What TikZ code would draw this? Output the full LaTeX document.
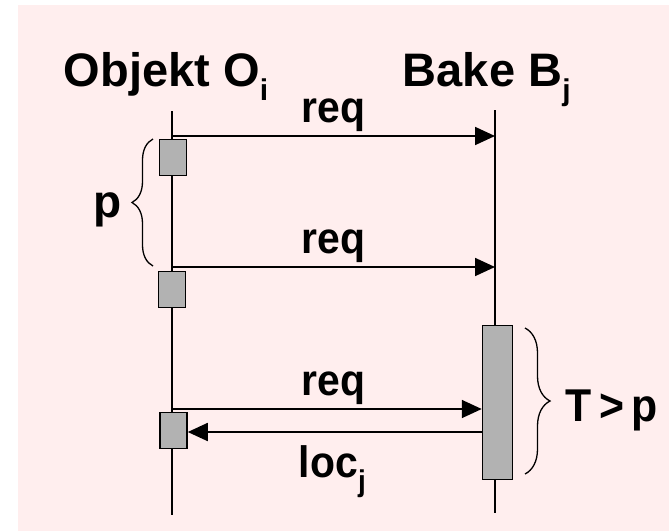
\documentclass[tikz,border=0pt]{standalone}
\usepackage{fontspec}
\setmainfont{Liberation Sans}
\usetikzlibrary{arrows.meta,decorations.pathreplacing}
\definecolor{bgpink}{RGB}{255,238,238}
\definecolor{actgray}{RGB}{178,178,178}
\newcommand{\lowidx}[1]{\raisebox{-14pt}{\fontsize{30}{30}\selectfont #1}}
\newcommand{\narrow}[1]{\scalebox{0.93}[1]{#1}}
\tikzset{
  head/.style={font=\fontsize{47}{47}\selectfont\bfseries, inner sep=0pt, anchor=base west},
  lbl/.style={font=\fontsize{44}{44}\selectfont\bfseries, inner sep=0pt, anchor=base west},
  act/.style={draw=black, fill=actgray, line width=1.5pt, inner sep=0pt, minimum width=27pt, minimum height=36pt},
  msg/.style={->, line width=1.8pt},
  bracket/.style={decorate, decoration={brace, amplitude=#1}, line width=1.3pt}
}
\begin{document}
\begin{tikzpicture}[x=1pt, y=-1pt, >={Triangle[length=20pt,width=18pt]}, line width=1.8pt]
	% 0. 背景
	\useasboundingbox (0,0) rectangle (669,531);
	\fill[bgpink] (18,5) rectangle (669,531);
	
	% 1. 标题
	\node[head] (objO) at (63,86) {Objekt O\lowidx{i}};
	\node[head] (bakeB) at (402,86) {Bake B\lowidx{j}};
	
	% 2. 生命线
	\coordinate (oTop) at (172,111); \coordinate (oBot) at (172,515);
	\coordinate (bTop) at (495,110); \coordinate (bBot) at (495,513);
	\draw (oTop) -- (oBot);
	\draw (bTop) -- (bBot);
	
	% 3. 激活框
	\node[act] (actO1) at (173,157.5) {};
	\node[act] (actO2) at (172,289.5) {};
	\node[act] (actO3) at (173.5,430.5) {};
	\node[act, minimum width=30pt, minimum height=154pt] (actB) at (497.5,402.5) {};
	
	% 4. 消息
	\coordinate (o1) at (172,136); \coordinate (b1) at (495,136);
	\coordinate (o2) at (172,267); \coordinate (b2) at (495,267);
	\coordinate (o3) at (172,409);
	\coordinate (b4) at (482,432);
	\draw[msg] (o1) -- (b1);
	\draw[msg] (o2) -- (b2);
	\draw[msg] (o3) -- (actB.west |- o3);
	\draw[msg] (b4) -- (actO3.east |- b4);
	\node[lbl] (req1) at (301,122) {\narrow{req}};
	\node[lbl] (req2) at (301,253) {\narrow{req}};
	\node[lbl] (req3) at (301,395) {\narrow{req}};
	\node[lbl] (locj) at (298,477) {\narrow{loc\lowidx{j}}};
	
	% 5. 括号
	\draw[bracket=21pt] (153,266) -- (153,139);
	\draw[bracket=25pt] (525,328) -- (525,474);
	\node[lbl, font=\fontsize{46}{46}\selectfont\bfseries, anchor=base] (plbl) at (108,217) {p};
	\node[lbl, font=\fontsize{46}{46}\selectfont\bfseries] (tgtp) at (565,421) {\narrow{T\,>\,p}};
\end{tikzpicture}
\end{document}
